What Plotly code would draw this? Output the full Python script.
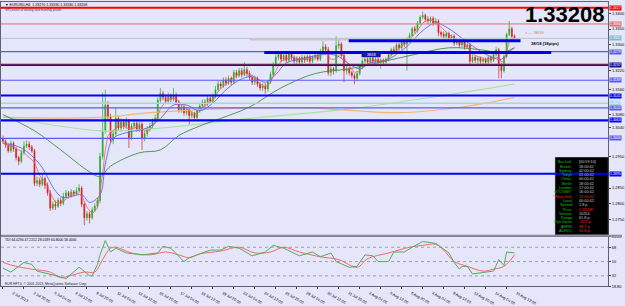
import plotly.graph_objects as go

W, H = 625, 306
BG = "#E6E6FA"
FONT = "Liberation Sans"

# ---------------- data (prices in pips: 1 pip = 0.0001) ----------------
bars = list(range(196))
first_open_pips = 13006
close_pips = [
    12997, 12985, 12967, 12991, 12973, 12946, 12934, 12961, 12982, 12988,
    12979, 12967, 12865, 12874, 12862, 12880, 12859, 12835, 12787, 12799,
    12793, 12811, 12802, 12823, 12835, 12826, 12838, 12832, 12841, 12850,
    12799, 12757, 12769, 12757, 12781, 12793, 12811, 12949, 13030, 13111,
    13075, 13000, 13021, 13069, 13039, 13057, 13045, 13060, 13009, 13045,
    13054, 13036, 13051, 13006, 13021, 13036, 13045, 13060, 13069, 13126,
    13147, 13135, 13123, 13138, 13129, 13141, 13120, 13096, 13105, 13087,
    13096, 13078, 13084, 13072, 13093, 13108, 13120, 13114, 13132, 13123,
    13138, 13159, 13177, 13171, 13189, 13180, 13195, 13183, 13213, 13204,
    13219, 13207, 13222, 13210, 13198, 13183, 13195, 13177, 13165, 13171,
    13162, 13183, 13207, 13237, 13261, 13270, 13255, 13267, 13252, 13273,
    13261, 13249, 13258, 13246, 13261, 13252, 13264, 13249, 13261, 13267,
    13255, 13279, 13294, 13285, 13213, 13225, 13219, 13297, 13303, 13267,
    13219, 13225, 13213, 13204, 13195, 13210, 13231, 13249, 13255, 13246,
    13258, 13249, 13255, 13246, 13252, 13246, 13255, 13270, 13285, 13279,
    13300, 13291, 13309, 13303, 13315, 13330, 13351, 13345, 13369, 13387,
    13393, 13381, 13375, 13384, 13369, 13375, 13339, 13333, 13327, 13336,
    13321, 13327, 13306, 13312, 13300, 13309, 13294, 13300, 13249, 13261,
    13252, 13258, 13249, 13255, 13246, 13261, 13252, 13270, 13285, 13237,
    13219, 13264, 13333, 13351, 13327, 13320.8]
high_pips = [
    13015, 13003, 12991, 13000, 12997, 12979, 12952, 12970, 12997, 13000,
    12997, 12985, 12973, 12886, 12883, 12892, 12886, 12868, 12844, 12808,
    12811, 12820, 12820, 12835, 12844, 12841, 12847, 12844, 12853, 12862,
    12856, 12805, 12778, 12775, 12790, 12802, 12820, 12961, 13150, 13159,
    13123, 13084, 13033, 13105, 13078, 13069, 13066, 13072, 13066, 13054,
    13066, 13060, 13060, 13057, 13030, 13045, 13054, 13069, 13081, 13135,
    13165, 13156, 13144, 13150, 13147, 13165, 13150, 13126, 13114, 13111,
    13105, 13102, 13093, 13090, 13102, 13117, 13129, 13129, 13141, 13144,
    13147, 13171, 13186, 13186, 13198, 13198, 13204, 13201, 13222, 13222,
    13228, 13228, 13246, 13231, 13219, 13207, 13204, 13201, 13183, 13180,
    13180, 13189, 13216, 13246, 13270, 13282, 13279, 13276, 13273, 13282,
    13279, 13267, 13264, 13264, 13270, 13267, 13273, 13270, 13267, 13276,
    13273, 13288, 13312, 13303, 13294, 13234, 13231, 13327, 13315, 13309,
    13273, 13234, 13231, 13219, 13210, 13216, 13237, 13258, 13264, 13261,
    13264, 13264, 13261, 13261, 13258, 13258, 13261, 13276, 13291, 13294,
    13306, 13306, 13315, 13315, 13324, 13339, 13357, 13360, 13375, 13393,
    13405, 13399, 13390, 13390, 13390, 13384, 13381, 13345, 13342, 13342,
    13342, 13333, 13333, 13318, 13318, 13315, 13315, 13306, 13306, 13270,
    13267, 13264, 13264, 13261, 13261, 13267, 13267, 13279, 13294, 13291,
    13243, 13270, 13339, 13375, 13357, 13333]
low_pips = [
    12991, 12976, 12961, 12961, 12964, 12937, 12922, 12928, 12955, 12976,
    12970, 12961, 12856, 12856, 12853, 12856, 12847, 12826, 12778, 12781,
    12781, 12787, 12793, 12796, 12817, 12817, 12820, 12823, 12826, 12835,
    12790, 12733, 12748, 12739, 12751, 12775, 12787, 12802, 12940, 13021,
    13063, 12991, 12988, 13015, 13030, 13027, 13036, 13036, 12976, 13000,
    13036, 13027, 13027, 12970, 12997, 13012, 13027, 13036, 13054, 13063,
    13117, 13126, 13114, 13117, 13120, 13123, 13111, 13087, 13087, 13078,
    13078, 13051, 13069, 13063, 13066, 13087, 13102, 13105, 13108, 13114,
    13117, 13132, 13153, 13162, 13165, 13171, 13174, 13174, 13177, 13195,
    13198, 13198, 13201, 13201, 13189, 13174, 13174, 13168, 13156, 13156,
    13147, 13153, 13177, 13201, 13231, 13252, 13246, 13249, 13243, 13246,
    13252, 13240, 13240, 13237, 13240, 13243, 13246, 13240, 13243, 13252,
    13249, 13249, 13273, 13276, 13204, 13201, 13207, 13213, 13288, 13258,
    13183, 13207, 13204, 13195, 13177, 13186, 13204, 13225, 13243, 13237,
    13240, 13243, 13240, 13237, 13225, 13240, 13240, 13249, 13264, 13270,
    13273, 13282, 13285, 13294, 13219, 13309, 13324, 13336, 13339, 13363,
    13381, 13372, 13366, 13369, 13360, 13363, 13327, 13324, 13318, 13321,
    13312, 13315, 13297, 13300, 13291, 13294, 13285, 13288, 13234, 13243,
    13243, 13237, 13240, 13237, 13234, 13240, 13243, 13246, 13264, 13195,
    13195, 13213, 13258, 13327, 13321, 13318]

# moving averages (read points: bar index, pips)
red_ma_bars = [0, 4, 8, 12, 14, 16, 18, 20, 22, 24, 26, 28, 30, 32, 34, 36, 37, 38, 39, 40,
               42, 44, 46, 48, 50, 52, 54, 56, 58, 60, 62, 64, 66, 68, 70, 72, 74, 76, 78, 80,
               82, 84, 86, 88, 90, 92, 94, 96, 98, 100, 102, 104, 106, 108, 110, 114, 118, 121,
               123, 125, 127, 129, 131, 134, 136, 138, 142, 146, 148, 150, 152, 154, 156, 158,
               160, 162, 164, 166, 168, 170, 172, 174, 176, 178, 180, 184, 187, 189, 190, 191,
               192, 193, 194, 195]
red_ma_pips = [12991, 12979, 12961, 12931, 12889, 12871, 12835, 12805, 12802, 12817, 12829, 12835,
               12826, 12790, 12769, 12787, 12835, 12895, 12970, 13015, 13030, 13045, 13045, 13036,
               13039, 13045, 13030, 13033, 13054, 13099, 13123, 13132, 13132, 13114, 13099, 13087,
               13084, 13102, 13117, 13126, 13153, 13171, 13183, 13198, 13210, 13213, 13207, 13195,
               13177, 13168, 13183, 13219, 13249, 13255, 13261, 13255, 13258, 13267, 13279, 13255,
               13255, 13279, 13246, 13213, 13219, 13237, 13252, 13252, 13267, 13285, 13297, 13306,
               13324, 13345, 13369, 13378, 13378, 13363, 13345, 13333, 13321, 13309, 13303, 13282,
               13267, 13255, 13258, 13261, 13246, 13249, 13279, 13309, 13318, 13321]
blue_ma_bars = [0, 7, 14, 20, 23, 30, 33, 37, 39, 42, 47, 55, 60, 65, 70, 75, 80, 85, 90, 95, 100,
                104, 108, 115, 122, 127, 132, 136, 140, 146, 150, 155, 160, 165, 170, 175, 180,
                185, 190, 193, 195]
blue_ma_pips = [12991, 12976, 12925, 12841, 12820, 12829, 12805, 12829, 12925, 13006, 13024, 13039,
                13069, 13111, 13111, 13093, 13117, 13159, 13189, 13201, 13183, 13207, 13243, 13258,
                13270, 13267, 13240, 13225, 13243, 13252, 13270, 13303, 13345, 13369, 13351, 13321,
                13291, 13267, 13255, 13279, 13291]
green_ma_bars = [0, 12, 22, 33, 37, 41, 52, 60, 67, 75, 83, 94, 106, 119, 132, 144, 157, 170, 182, 190, 195]
green_ma_pips = [13081, 13030, 12970, 12901, 12886, 12919, 12961, 12970, 13015, 13045, 13069, 13105,
                 13165, 13210, 13225, 13246, 13270, 13291, 13285, 13276, 13291]
lgreen_ma_bars = [0, 37, 56, 94, 132, 170, 195]
lgreen_ma_pips = [13075, 13030, 13036, 13069, 13099, 13144, 13177]
orange_ma_bars = [0, 37, 56, 94, 117, 151, 175, 195]
orange_ma_pips = [13072, 13072, 13087, 13102, 13102, 13087, 13105, 13135]

# TDI sub-window
tdi_green_bars = [0, 3, 8, 11, 13, 18, 22, 24, 26, 29, 30, 33, 34, 36, 37, 39, 41, 43, 47, 53, 59, 61,
                  64, 69, 71, 79, 83, 86, 90, 95, 100, 103, 107, 113, 118, 121, 125, 127, 132, 135,
                  138, 141, 143, 147, 149, 153, 156, 160, 165, 170, 172, 174, 175, 177, 179, 185,
                  187, 189, 191, 192, 195]
tdi_green_vals = [41.6, 36.8, 48.8, 46.4, 38, 34.4, 30.8, 28.4, 34.4, 42.8, 40.4, 32, 32, 46.4, 58.4,
                  76.4, 62, 66.8, 60.8, 58.4, 60.8, 69.2, 66.8, 50, 54.8, 64.4, 64.4, 69.2, 66.8, 57.2,
                  62, 70.4, 66.8, 57.2, 62, 56, 60.8, 50, 42.8, 44, 58.4, 57.2, 50, 50, 62, 62, 68,
                  75.2, 72.8, 60.8, 48.8, 40.4, 44, 44, 34.4, 36.8, 38, 52.4, 45.2, 62, 60.8]
tdi_red_bars = [0, 5, 11, 18, 22, 24, 28, 31, 35, 37, 39, 41, 43, 49, 56, 62, 67, 71, 75, 83, 90, 96,
                102, 107, 113, 121, 128, 135, 139, 147, 155, 160, 165, 168, 172, 177, 183, 187, 191, 195]
tdi_red_vals = [48.8, 44, 40.4, 36.8, 29.6, 30.8, 34.4, 36.8, 36.8, 46.4, 58.4, 66.8, 68, 60.8, 58.4,
                62, 58.4, 54.8, 59.6, 63.2, 68, 60.8, 62, 68, 62, 56, 52.4, 42.8, 53.6, 60.8, 68,
                70.4, 71.6, 64.4, 50, 44, 38, 40.4, 44, 58.4]
tdi_levels = [32, 50, 68]

# time axis
tick_bars = list(range(0, 193, 8))
tick_labels = ["2 Jul 2013", "3 Jul 20:00", "5 Jul 04:00", "8 Jul 12:00", "9 Jul 20:00",
               "11 Jul 04:00", "12 Jul 12:00", "15 Jul 20:00", "17 Jul 04:00", "18 Jul 12:00",
               "19 Jul 20:00", "23 Jul 04:00", "24 Jul 12:00", "25 Jul 20:00", "29 Jul 04:00",
               "30 Jul 12:00", "31 Jul 20:00", "2 Aug 04:00", "5 Aug 12:00", "6 Aug 20:00",
               "8 Aug 04:00", "9 Aug 12:00", "12 Aug 20:00", "14 Aug 04:00", "15 Aug 12:00"]
# price scale labels (those not hidden under level tags)
price_ticks = [1.2750, 1.2800, 1.2850, 1.2950, 1.3040, 1.3080, 1.3160, 1.3220, 1.3300, 1.3350, 1.3400]

# horizontal pivot levels
level_pips = [13417, 13366, 13279, 13237, 13189, 13141, 13117, 13102, 13063, 13006, 12895]
level_names = ["W_R2", "W_R1", "W_PP", "W_S1", "W_B1", "W_S2", "M_Pivot", "W_B2", "W_S3", "M_B2", "M_S3"]
level_colors = ["#FF0000", "#E07070", "#5A5AF0", "#14148C", "#5A5AF0", "#0000FF",
                "#9ED8E8", "#5A5AF0", "#0000FF", "#5A5AF0", "#0000FF"]
level_widths = [2, 1, 1.2, 2.2, 1.2, 2.2, 1.5, 1.2, 2.2, 1.2, 2.2]
zone_pips = [13313, 13276]
zone_from_bar = [131.8, 99.6]
zone_to_bar = [197.3, 209.0]

# info panel
info_labels = ["Bar Left", "Broker", "Sydney", "Tokyo", "China", "Berlin", "London", "UTC/GMT",
               "* New York", "Local", "Spread", "Price", "Volume", "Range", "Pips2open", "AHRN", "ADR(5)"]
info_values = ["[00:59:10]", "18:00:42", "02:00:42", "01:00:42", "00:00:42", "18:00:42", "17:00:42",
               "16:00:42", "12:00:42", "00:00:42", "1.8 p", "1.33208", "10254", "61.8 p",
               "-42.2 p", "38.7 p", "91.8 p"]
info_red_rows = [8, 11, 14, 15, 16]

# ---------------- derived ----------------
P = lambda v: v / 10000.0
close = [P(v) for v in close_pips]
high = [P(v) for v in high_pips]
low = [P(v) for v in low_pips]
open_ = [P(first_open_pips)] + close[:-1]

def pxx(p):
    return p / W

def pxy(p):
    return 1 - p / H

PLOT_R = 611
x_range = [(0 - 2) / 2.64, (PLOT_R - 2) / 2.64]

fig = go.Figure()
fig.add_trace(go.Candlestick(
    x=bars, open=open_, high=high, low=low, close=close, xaxis="x", yaxis="y",
    increasing=dict(line=dict(color="#22A822", width=0.7), fillcolor="#22B422"),
    decreasing=dict(line=dict(color="#D81C1C", width=0.7), fillcolor="#E01010"),
    whiskerwidth=0, hoverinfo="skip"))

for bx, py, col, wd, shp in [
    (lgreen_ma_bars, lgreen_ma_pips, "#A8E2A8", 1.2, "spline"),
    (orange_ma_bars, orange_ma_pips, "#F2B574", 1.2, "spline"),
    (green_ma_bars, green_ma_pips, "#3F8F3F", 0.9, "spline"),
    (blue_ma_bars, blue_ma_pips, "#6464F0", 0.9, "spline"),
    (red_ma_bars, red_ma_pips, "#F06060", 0.8, "linear"),
]:
    fig.add_trace(go.Scatter(x=bx, y=[P(v) for v in py], mode="lines", xaxis="x", yaxis="y",
                             line=dict(color=col, width=wd, shape=shp), hoverinfo="skip"))

fig.add_trace(go.Scatter(x=tdi_red_bars, y=tdi_red_vals, mode="lines", xaxis="x2", yaxis="y2",
                         line=dict(color="#F06A6A", width=1, shape="spline"), hoverinfo="skip"))
fig.add_trace(go.Scatter(x=tdi_green_bars, y=tdi_green_vals, mode="lines", xaxis="x2", yaxis="y2",
                         line=dict(color="#5AAA5A", width=1), hoverinfo="skip"))

shapes = []
# info panel background
shapes.append(dict(type="rect", xref="paper", yref="paper", x0=pxx(558), x1=pxx(PLOT_R),
                   y0=pxy(244), y1=pxy(163), fillcolor="#000000", line=dict(color="#303030", width=1),
                   layer="above"))
# pivot lines
for lp, col, wd in zip(level_pips, level_colors, level_widths):
    shapes.append(dict(type="line", xref="x domain", yref="y", x0=0, x1=1, y0=P(lp), y1=P(lp),
                       line=dict(color=col, width=wd), layer="above"))
shapes.append(dict(type="line", xref="x domain", yref="y", x0=0, x1=1, y0=P(13240), y1=P(13240),
                   line=dict(color="#E04040", width=0.8), layer="above"))
# bid line
shapes.append(dict(type="line", xref="x domain", yref="y", x0=0, x1=1, y0=close[-1], y1=close[-1],
                   line=dict(color="#B4C4D4", width=1), layer="above"))
shapes.append(dict(type="line", xref="x", yref="y", x0=94, x1=132, y0=P(13316), y1=P(13316),
                   line=dict(color="#D8A8A8", width=1), layer="above"))
# zones
for zp, z0, z1 in zip(zone_pips, zone_from_bar, zone_to_bar):
    shapes.append(dict(type="line", xref="x", yref="y", x0=z0, x1=z1, y0=P(zp), y1=P(zp),
                       line=dict(color="#0000E6", width=3), layer="above"))
shapes.append(dict(type="rect", xref="x", yref="y", x0=136.7, x1=144.0, y0=P(13261), y1=P(13277),
                   fillcolor="#1A1AA8", line=dict(width=0), layer="above"))
# TDI levels
for lv in tdi_levels:
    shapes.append(dict(type="line", xref="x2 domain", yref="y2", x0=0, x1=1, y0=lv, y1=lv,
                       line=dict(color="#8A8A9A", width=0.8, dash="dot"), layer="below"))
# pane separator
shapes.append(dict(type="line", xref="paper", yref="paper", x0=0, x1=1, y0=pxy(245), y1=pxy(245),
                   line=dict(color="#8C8C9C", width=2)))

ann = []
def txt(x, y, s, size=4, color="#000000", xanchor="left", yanchor="middle", bold=False, **kw):
    ann.append(dict(x=pxx(x), y=pxy(y), xref="paper", yref="paper", text=("<b>%s</b>" % s) if bold else s,
                    showarrow=False, xanchor=xanchor, yanchor=yanchor,
                    font=dict(family=FONT, size=size, color=color), **kw))

# header
txt(2, 3, "▼ EURUSD,H4  %.5f %.5f %.5f %.5f" % (open_[-1], high[-1], low[-1], close[-1]), size=3.6)
txt(2, 8, "SR Levels of weekly and monthly pivots", size=3.2, color="#333355")
# big price
txt(PLOT_R - 1, 13, "%.5f" % close[-1], size=22, bold=True, xanchor="right")
# pivot labels
for lp, nm in zip(level_pips, level_names):
    ann.append(dict(x=508, y=P(lp), xref="x", yref="y", text="%s %.4f" % (nm, P(lp)), showarrow=False,
                    xanchor="left", yanchor="top", yshift=-0.5,
                    font=dict(family=FONT, size=3.8, color="#8A8AA0")))
# price tags on scale
tag_pips = level_pips + [close[-1] * 10000]
tag_cols = level_colors + ["#7FB8C8"]
for tp, tc in zip(tag_pips, tag_cols):
    ann.append(dict(x=pxx(PLOT_R + 0.5), y=P(tp), xref="paper", yref="y", text="%.4f" % P(tp),
                    showarrow=False, xanchor="left", yanchor="middle", bgcolor=tc, borderpad=0,
                    font=dict(family=FONT, size=3.5, color="#FFFFFF")))
# zone notes
txt(525, 32, "&lt;---- 38/18", size=4, color="#E07850")
txt(531, 43.5, "38/18 (18pips)", size=4.2, bold=True)
ann.append(dict(x=140.3, y=P(13269), xref="x", yref="y", text="38/18", showarrow=False,
                font=dict(family=FONT, size=3.5, color="#FFFFFF")))
# info panel rows
for k, (lab, val) in enumerate(zip(info_labels, info_values)):
    yy = 168 + 4.5 * k
    red = k in info_red_rows
    txt(577, yy, lab, size=3.8, color="#FF2020" if lab.startswith("*") else "#10C010", xanchor="right")
    txt(579.5, yy, val, size=3.8, color="#FF2020" if red else "#C8C8C8")
# TDI header and copyright
txt(2, 249.5, "TDI %.4f %.4f %.4f %.4f %.4f" % (64.0294, 47.2212, 28.0189, tdi_green_vals[-1], tdi_red_vals[-1]),
    size=3.4)
txt(2, 295, "EUR HFT4, © 2001-2013, MetaQuotes Software Corp.", size=3.4, color="#222222")

axis_common = dict(showgrid=False, zeroline=False, showline=True, mirror=True, linecolor="#606070",
                   linewidth=1)
fig.update_layout(
    width=W, height=H, margin=dict(l=0, r=0, t=0, b=0),
    paper_bgcolor=BG, plot_bgcolor=BG, showlegend=False, boxgap=0.5,
    xaxis=dict(domain=[0, PLOT_R / W], range=x_range, showticklabels=False, ticks="",
               rangeslider=dict(visible=False), anchor="y", **axis_common),
    yaxis=dict(domain=[pxy(244), 1], range=[P(13435 - 3 * 244), P(13435)], side="right", anchor="x",
               tickvals=price_ticks, tickformat=".4f", ticks="outside", ticklen=2, tickcolor="#404040",
               tickfont=dict(family=FONT, size=4.0, color="#000000"), **axis_common),
    xaxis2=dict(domain=[0, PLOT_R / W], range=x_range, anchor="y2", tickvals=tick_bars,
                ticktext=tick_labels, ticks="outside", ticklen=2, tickcolor="#404040",
                ticklabelshift=10, ticklabelstandoff=0,
                tickfont=dict(family=FONT, size=3.8, color="#000000"), **axis_common),
    yaxis2=dict(domain=[pxy(298), pxy(246)], range=[18.8, 81.2], side="right", anchor="x2",
                tickvals=[18.8] + tdi_levels + [81.2], ticktext=["18.80", "32", "50", "68", "81.20"],
                ticks="outside", ticklen=2, tickcolor="#404040",
                tickfont=dict(family=FONT, size=3.8, color="#000000"), **axis_common),
    shapes=shapes, annotations=ann,
)

fig.write_html("out.html")
